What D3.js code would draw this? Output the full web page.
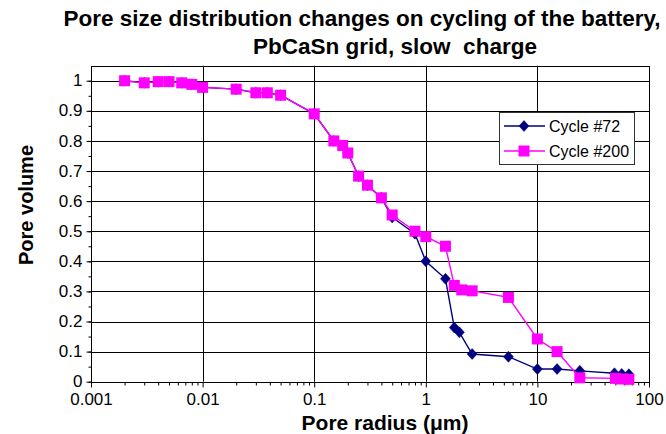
<!DOCTYPE html>
<html>
<head>
<meta charset="utf-8">
<script src="https://cdn.jsdelivr.net/npm/d3@7"></script>
<style>
  html, body { margin: 0; padding: 0; background: #fff; }
  svg { display: block; font-family: "Liberation Sans", Arial, sans-serif; }
</style>
</head>
<body>
<svg id="chart" width="666" height="434"></svg>
<script>
// ---- data ----
const titleLines = ["Pore size distribution changes on cycling of the battery,", "PbCaSn grid, slow  charge"];
const xLabel = "Pore radius (\u03bcm)";
const yLabel = "Pore volume";
const seriesNames = ["Cycle #72", "Cycle #200"];

const xTickValues = [0.001, 0.01, 0.1, 1, 10, 100];
const xTickLabels = ["0.001", "0.01", "0.1", "1", "10", "100"];
const yTickValues = [0, 0.1, 0.2, 0.3, 0.4, 0.5, 0.6, 0.7, 0.8, 0.9, 1];
const yTickLabels = ["0", "0.1", "0.2", "0.3", "0.4", "0.5", "0.6", "0.7", "0.8", "0.9", "1"];

// Cycle #72 (radius µm, pore volume)
const cycle72X = [0.002, 0.003, 0.004, 0.005, 0.0065, 0.008, 0.01, 0.02, 0.03, 0.038, 0.05, 0.1, 0.15, 0.18, 0.2, 0.25, 0.3, 0.4, 0.5, 0.8, 1.0, 1.5, 1.8, 2.0, 2.6, 5.5, 10, 15, 24, 49, 57, 66];
const cycle72Y = [1.0, 0.993, 0.997, 0.997, 0.993, 0.988, 0.978, 0.972, 0.96, 0.96, 0.952, 0.89, 0.80, 0.785, 0.76, 0.683, 0.653, 0.611, 0.546, 0.492, 0.40, 0.342, 0.18, 0.164, 0.092, 0.083, 0.042, 0.042, 0.036, 0.028, 0.026, 0.025];

// Cycle #200
const cycle200X = [0.002, 0.003, 0.004, 0.005, 0.0065, 0.008, 0.01, 0.02, 0.03, 0.038, 0.05, 0.1, 0.15, 0.18, 0.2, 0.25, 0.3, 0.4, 0.5, 0.8, 1.0, 1.5, 1.8, 2.1, 2.6, 5.5, 10, 15, 24, 50, 58, 66];
const cycle200Y = [1.0, 0.993, 0.997, 0.997, 0.993, 0.988, 0.978, 0.972, 0.96, 0.96, 0.952, 0.89, 0.80, 0.785, 0.76, 0.683, 0.653, 0.611, 0.554, 0.50, 0.482, 0.45, 0.32, 0.305, 0.302, 0.28, 0.142, 0.10, 0.013, 0.011, 0.009, 0.008];

// ---- layout ----
const svg = d3.select("#chart");
const x = d3.scaleLog().domain([0.001, 100]).range([91, 649]);
const y = d3.scaleLinear().domain([0, 1.05]).range([381.7, 65.7]);

const blue = "#000080", magenta = "#ff00ff";

// gridlines
const grid = svg.append("g");
grid.selectAll("line.h").data(yTickValues.filter(v => v > 0)).join("line")
  .attr("x1", x(0.001)).attr("x2", x(100))
  .attr("y1", d => Math.round(y(d)) + 0.5).attr("y2", d => Math.round(y(d)) + 0.5)
  .attr("stroke", "#000").attr("stroke-width", 1);
grid.selectAll("line.v").data(xTickValues.slice(1, -1)).join("line")
  .attr("x1", d => Math.round(x(d)) + 0.5).attr("x2", d => Math.round(x(d)) + 0.5)
  .attr("y1", y(1.05)).attr("y2", y(0))
  .attr("stroke", "#000").attr("stroke-width", 1);

// plot border
svg.append("rect")
  .attr("x", x(0.001) + 0.5).attr("y", Math.round(y(1.05)) + 0.5)
  .attr("width", x(100) - x(0.001)).attr("height", Math.round(y(0)) - Math.round(y(1.05)))
  .attr("fill", "none").attr("stroke", "#000").attr("stroke-width", 1);

// minor ticks
const xMinor = [];
for (let e = -3; e < 2; e++) for (let m = 2; m <= 9; m++) xMinor.push(m * Math.pow(10, e));
const yMinor = d3.range(0, 21).map(i => i * 0.05);

const xAxisMinor = d3.axisBottom(x).tickValues(xMinor).tickSize(3).tickFormat("");
const xAxis = d3.axisBottom(x).tickValues(xTickValues).tickSize(5).tickPadding(5)
  .tickFormat((d, i) => xTickLabels[i]);
const yAxisMinor = d3.axisLeft(y).tickValues(yMinor).tickSize(3).tickFormat("");
const yAxis = d3.axisLeft(y).tickValues(yTickValues).tickSize(5).tickPadding(4)
  .tickFormat((d, i) => yTickLabels[i]);

const y0 = Math.round(y(0)) + 0.5;
const x0 = Math.round(x(0.001)) + 0.5;
function styleAxis(g) {
  g.select(".domain").remove();
  g.selectAll("line").attr("stroke", "#000");
  g.selectAll("text").attr("font-size", 17).attr("fill", "#000")
    .attr("font-family", "'Liberation Sans', Arial, sans-serif");
}
svg.append("g").attr("transform", `translate(0,${y0})`).call(xAxisMinor).call(styleAxis);
svg.append("g").attr("transform", `translate(0,${y0})`).call(xAxis).call(styleAxis);
svg.append("g").attr("transform", `translate(${x0},0)`).call(yAxisMinor).call(styleAxis);
const yAxisG = svg.append("g").attr("transform", `translate(${x0},0)`).call(yAxis).call(styleAxis);
yAxisG.selectAll("text").attr("dy", "0.3em");

// series
const line = d3.line().x(d => x(d[0])).y(d => y(d[1]));
const s72 = cycle72X.map((v, i) => [v, cycle72Y[i]]);
const s200 = cycle200X.map((v, i) => [v, cycle200Y[i]]);

function drawDiamond(g, cx, cy) {
  g.append("path").attr("d", `M${cx},${cy - 5.5}L${cx + 5},${cy}L${cx},${cy + 5.5}L${cx - 5},${cy}Z`)
    .attr("fill", blue).attr("stroke", blue).attr("stroke-width", 0.5);
}
function drawSquare(g, cx, cy) {
  g.append("rect").attr("x", cx - 5.5).attr("y", cy - 5.5).attr("width", 11).attr("height", 11)
    .attr("fill", magenta);
}

const g72 = svg.append("g");
g72.append("path").datum(s72).attr("d", line).attr("fill", "none").attr("stroke", blue).attr("stroke-width", 1.4);
s72.forEach(d => drawDiamond(g72, x(d[0]), y(d[1])));

const g200 = svg.append("g");
g200.append("path").datum(s200).attr("d", line).attr("fill", "none").attr("stroke", magenta).attr("stroke-width", 1.4);
s200.forEach(d => drawSquare(g200, x(d[0]), y(d[1])));

// legend
const lg = svg.append("g");
lg.append("rect").attr("x", 499.5).attr("y", 112.5).attr("width", 135).attr("height", 52)
  .attr("fill", "#fff").attr("stroke", "#333").attr("stroke-width", 1);
const legendColors = [blue, magenta];
seriesNames.forEach((name, i) => {
  const cy = 126 + i * 25;
  lg.append("line").attr("x1", 504).attr("x2", 545).attr("y1", cy).attr("y2", cy)
    .attr("stroke", legendColors[i]).attr("stroke-width", 1.4);
  if (i === 0) drawDiamond(lg, 524, cy); else drawSquare(lg, 524, cy);
  lg.append("text").attr("x", 549).attr("y", cy + 6).attr("font-size", 16).attr("fill", "#000").text(name);
});

// titles
const title = svg.append("g").attr("font-weight", "bold").attr("font-size", 22.5).attr("fill", "#000");
title.append("text").attr("x", 362).attr("y", 26).attr("text-anchor", "middle").text(titleLines[0]);
title.append("text").attr("x", 395).attr("y", 54).attr("text-anchor", "middle")
  .style("white-space", "pre").text(titleLines[1]);

svg.append("text").attr("x", 385).attr("y", 430).attr("text-anchor", "middle")
  .attr("font-weight", "bold").attr("font-size", 21).text(xLabel);
svg.append("text").attr("transform", "translate(33,205) rotate(-90)").attr("text-anchor", "middle")
  .attr("font-weight", "bold").attr("font-size", 20).text(yLabel);
</script>
</body>
</html>
